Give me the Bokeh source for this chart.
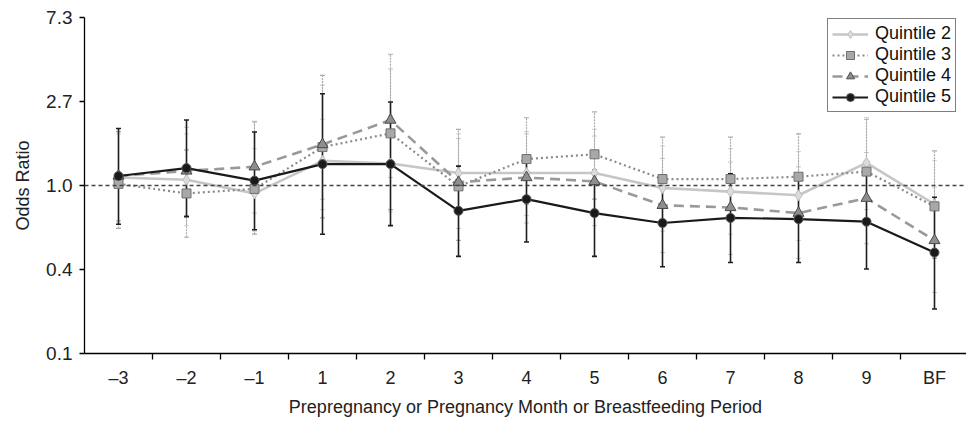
import math
from bokeh.plotting import figure
from bokeh.models import (ColumnDataSource, Range1d, LinearAxis, LogAxis, FixedTicker,
                          Whisker, TeeHead, Span, Legend)
from bokeh.embed import file_html
from bokeh.resources import INLINE

# ---- data ----
periods = ["\u20133", "\u20132", "\u20131", "1", "2", "3", "4", "5", "6", "7", "8", "9", "BF"]
xpos = list(range(len(periods)))

q2_or = [1.10, 1.07, 0.91, 1.34, 1.30, 1.16, 1.16, 1.16, 0.97, 0.93, 0.89, 1.31, 0.80]
q2_lo = [0.65, 0.62, 0.58, 0.75, 0.73, 0.72, 0.70, 0.72, 0.58, 0.56, 0.52, 0.75, 0.42]
q2_hi = [1.85, 1.85, 1.55, 2.20, 2.30, 1.85, 1.90, 1.95, 1.60, 1.55, 1.50, 2.25, 1.35]

q3_or = [1.02, 0.91, 0.96, 1.58, 1.86, 0.99, 1.37, 1.45, 1.08, 1.08, 1.11, 1.18, 0.78]
q3_lo = [0.60, 0.54, 0.56, 0.68, 0.75, 0.52, 0.80, 0.85, 0.65, 0.65, 0.67, 0.62, 0.42]
q3_hi = [1.90, 1.53, 2.13, 3.71, 4.77, 1.95, 2.24, 2.40, 1.78, 1.78, 1.85, 2.20, 1.51]

q4_or = [1.12, 1.19, 1.25, 1.63, 2.18, 1.04, 1.10, 1.05, 0.79, 0.77, 0.72, 0.86, 0.52]
q4_lo = [0.66, 0.70, 0.72, 0.85, 1.10, 0.60, 0.64, 0.62, 0.45, 0.44, 0.42, 0.50, 0.28]
q4_hi = [1.90, 2.00, 2.15, 3.30, 4.00, 1.75, 1.85, 1.80, 1.38, 1.32, 1.25, 1.48, 0.98]

q5_or = [1.12, 1.23, 1.06, 1.29, 1.29, 0.74, 0.85, 0.72, 0.64, 0.68, 0.67, 0.65, 0.45]
q5_lo = [0.63, 0.69, 0.59, 0.56, 0.62, 0.43, 0.51, 0.43, 0.38, 0.40, 0.40, 0.37, 0.23]
q5_hi = [1.97, 2.18, 1.89, 2.98, 2.70, 1.26, 1.41, 1.20, 1.08, 1.15, 1.12, 1.14, 0.87]

y_tick_exponents = [-2, -1, 0, 1, 2]
y_tick_labels = ["0.1", "0.4", "1.0", "2.7", "7.3"]
series_names = ["Quintile 2", "Quintile 3", "Quintile 4", "Quintile 5"]

FONT = "Liberation Sans"

y_ticks = [math.exp(k) for k in y_tick_exponents]

p = figure(width=966, height=423, output_backend="svg", toolbar_location=None,
           y_axis_type="log", x_axis_location=None, y_axis_location=None,
           x_range=Range1d(-0.5, 12.5 - 2 / 68.0),
           y_range=Range1d(y_ticks[0], y_ticks[-1]),
           min_border_left=84, min_border_right=0, min_border_top=17, min_border_bottom=70)
p.outline_line_color = None
p.xgrid.visible = False
p.ygrid.visible = False
p.background_fill_color = "white"

# ---- axes ----
yaxis = LogAxis(ticker=FixedTicker(ticks=y_ticks),
                major_label_overrides={t: l for t, l in zip(y_ticks, y_tick_labels)},
                axis_label="Odds Ratio")
yaxis.major_tick_out = 5
yaxis.major_tick_in = 0
yaxis.minor_tick_out = 0
yaxis.minor_tick_in = 0
yaxis.major_label_standoff = 7
yaxis.major_label_text_font = FONT
yaxis.major_label_text_font_size = "19px"
yaxis.major_label_text_color = "#222222"
yaxis.axis_label_text_font = FONT
yaxis.axis_label_text_font_size = "18px"
yaxis.axis_label_text_font_style = "normal"
yaxis.axis_label_text_color = "#222222"
yaxis.axis_label_standoff = 10
yaxis.axis_line_color = "black"
yaxis.axis_line_width = 1.3
yaxis.major_tick_line_color = "black"
yaxis.major_tick_line_width = 1.3
p.add_layout(yaxis, "left")

tick_axis = LinearAxis(ticker=FixedTicker(ticks=[i + 0.5 for i in range(12)]),
                       major_label_overrides={i + 0.5: "" for i in range(12)})
tick_axis.major_tick_out = 6
tick_axis.major_tick_in = 0
tick_axis.minor_tick_out = 0
tick_axis.minor_tick_in = 0
tick_axis.major_label_standoff = 0
tick_axis.major_label_text_font_size = "0px"
tick_axis.axis_line_color = "black"
tick_axis.axis_line_width = 1.3
tick_axis.major_tick_line_color = "black"
tick_axis.major_tick_line_width = 1.3
p.add_layout(tick_axis, "below")

label_axis = LinearAxis(ticker=FixedTicker(ticks=xpos),
                        major_label_overrides={i: s for i, s in zip(xpos, periods)},
                        axis_label="Prepregnancy or Pregnancy Month or Breastfeeding Period")
label_axis.axis_line_color = None
label_axis.major_tick_line_color = None
label_axis.minor_tick_line_color = None
label_axis.major_tick_out = 0
label_axis.major_tick_in = 0
label_axis.minor_tick_out = 0
label_axis.minor_tick_in = 0
label_axis.major_label_standoff = 8
label_axis.major_label_text_font = FONT
label_axis.major_label_text_font_size = "18px"
label_axis.major_label_text_color = "#222222"
label_axis.axis_label_text_font = FONT
label_axis.axis_label_text_font_size = "18px"
label_axis.axis_label_text_font_style = "normal"
label_axis.axis_label_text_color = "#222222"
label_axis.axis_label_standoff = 6
p.add_layout(label_axis, "below")

# ---- error bars ----
def add_whisker(lo, hi, color, width, dash="solid"):
    src = ColumnDataSource(dict(x=xpos, lo=lo, hi=hi))
    w = Whisker(source=src, base="x", lower="lo", upper="hi", dimension="height",
                line_color=color, line_width=width, line_dash=dash,
                lower_head=TeeHead(size=5, line_color=color, line_width=width),
                upper_head=TeeHead(size=5, line_color=color, line_width=width))
    p.add_layout(w)

add_whisker(q2_lo, q2_hi, "#d4d4d4", 1)
add_whisker(q4_lo, q4_hi, "#c8c8c8", 1)
add_whisker(q3_lo, q3_hi, "#ababab", 1.2, "2 1")
add_whisker(q5_lo, q5_hi, "#1e1e1e", 1.6)

# ---- reference line ----
p.add_layout(Span(location=1.0, dimension="width", line_color="#444444",
                  line_width=1.6, line_dash="4 3"))

# ---- series ----
r2l = p.line(xpos, q2_or, line_color="#c6c6c6", line_width=2.6)
r2m = p.scatter(xpos, q2_or, marker="diamond", size=11, fill_color="#dcdcdc",
                line_color="#bdbdbd", line_width=1)
r3l = p.line(xpos, q3_or, line_color="#8a8a8a", line_width=2.2, line_dash="2 3")
r3m = p.scatter(xpos, q3_or, marker="square", size=9, fill_color="#a8a8a8",
                line_color="#6f6f6f", line_width=1)
r4l = p.line(xpos, q4_or, line_color="#999999", line_width=2.6, line_dash="10 6")
r4m = p.scatter(xpos, q4_or, marker="triangle", size=11, fill_color="#8e8e8e",
                line_color="#4a4a4a", line_width=1)
r5l = p.line(xpos, q5_or, line_color="#1a1a1a", line_width=2.2)
r5m = p.scatter(xpos, q5_or, marker="circle", size=9, fill_color="#1a1a1a",
                line_color="#555555", line_width=1)

legend = Legend(items=[(series_names[0], [r2l, r2m]), (series_names[1], [r3l, r3m]),
                       (series_names[2], [r4l, r4m]), (series_names[3], [r5l, r5m])],
                location=(743, 241))
legend.margin = 0
legend.padding = 4
legend.spacing = 0
legend.glyph_width = 36
legend.glyph_height = 20
legend.label_standoff = 7
legend.label_text_font = FONT
legend.label_text_font_size = "18px"
legend.label_text_color = "#111111"
legend.label_height = 20
legend.border_line_color = "black"
legend.border_line_width = 1.5
legend.background_fill_alpha = 1.0
p.add_layout(legend)

open("out.html", "w").write(file_html(p, INLINE))
